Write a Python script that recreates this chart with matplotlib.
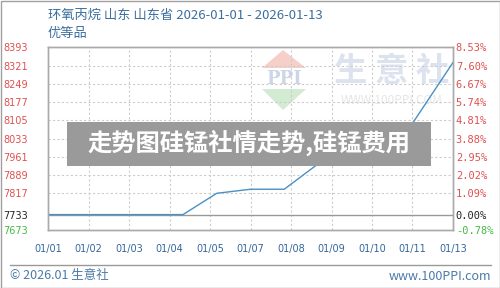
import matplotlib
matplotlib.use("Agg")
import matplotlib.pyplot as plt
from matplotlib.patches import Polygon, Rectangle
import numpy as np

plt.rcParams['font.family'] = ['Noto Sans CJK SC', 'DejaVu Sans']

# ---- data ----
dates = ['01/01', '01/02', '01/03', '01/04', '01/05', '01/06', '01/07',
         '01/08', '01/09', '01/10', '01/11', '01/13']
prices = [7733, 7733, 7733, 7733, 7733, 7817, 7833, 7833, 7933, 7933, 7933, 8333]
x_labels = ['01/01', '01/02', '01/03', '01/04', '01/05', '01/07', '01/08',
            '01/09', '01/10', '01/11', '01/13']
y_ticks = [8393, 8321, 8249, 8177, 8105, 8033, 7961, 7889, 7817, 7733, 7673]
base_price = 7733
title_line1 = '环氧丙烷 山东 山东省 2026-01-01 - 2026-01-13'
title_line2 = '优等品'
banner_text = '走势图硅锰社情走势,硅锰费用'
footer_left = '© 2026.01 生意社'
footer_right = 'www.100PPI.com'

W, H = 500, 288
fig = plt.figure(figsize=(W / 100, H / 100), dpi=100, facecolor='white')

# background axes (watermark)
bg = fig.add_axes([0, 0, 1, 1], zorder=0)
bg.set_xlim(0, W); bg.set_ylim(H, 0); bg.axis('off')
bg.add_patch(Polygon([[283, 50], [262, 68], [306, 68]], closed=True, color='#f6cfc8', lw=0))
bg.text(284, 79, 'PPI', ha='center', va='center', fontsize=13, color='#cdd5e6',
        family='DejaVu Serif', fontweight='bold')
bg.add_patch(Polygon([[262, 89], [306, 89], [283, 110]], closed=True, color='#d3ead3', lw=0))
bg.text(392, 71, '生 意 社', ha='center', va='center', fontsize=24, color='#dde3ee',
        fontweight='bold')
bg.text(392, 101, 'WWW.100PPI.COM', ha='center', va='center', fontsize=8.5, color='#e6e6e6')

# main axes
L, R, T, B = 48, 453, 47.3, 229.8
ax = fig.add_axes([L / W, 1 - B / H, (R - L) / W, (B - T) / H], zorder=1)
ax.set_facecolor('none')

day = np.array([int(d.split('/')[1]) for d in dates])
ax.set_xlim(1, 13)
ax.set_ylim(y_ticks[-1], y_ticks[0])

xt = np.linspace(1, 13, len(x_labels))
ax.set_xticks(xt)
ax.set_xticklabels(x_labels, fontsize=7, color='#336699', family='DejaVu Sans')
ax.tick_params(axis='x', length=0, pad=10)

ax.set_yticks(y_ticks)
ax.set_yticklabels([str(v) for v in y_ticks], fontsize=7, family='DejaVu Sans')
ax.tick_params(axis='y', length=0, pad=14.5)
for lbl, v in zip(ax.get_yticklabels(), y_ticks):
    lbl.set_color('#e05050' if v > base_price else ('#222222' if v == base_price else '#44bb44'))

ax2 = ax.twinx()
ax2.set_ylim(ax.get_ylim())
ax2.set_yticks(y_ticks)
pct = [(v / base_price - 1) * 100 for v in y_ticks]
ax2.set_yticklabels(['%.2f%%' % p for p in pct], fontsize=7.5, family='DejaVu Sans Mono')
ax2.tick_params(axis='y', length=0, pad=2)
for lbl, v in zip(ax2.get_yticklabels(), y_ticks):
    lbl.set_color('#e05050' if v > base_price else ('#222222' if v == base_price else '#44bb44'))

for a in (ax, ax2):
    for s in a.spines.values():
        s.set_color('#aaaaaa'); s.set_linewidth(1)

for v in y_ticks[1:-1]:
    if v != base_price:
        ax.axhline(v, color='#cccccc', lw=0.8, ls=(0, (2, 2)), zorder=1)
for x in xt[1:-1]:
    ax.axvline(x, color='#cccccc', lw=0.8, ls=(0, (2, 2)), zorder=1)
ax.axhline(base_price, color='#999999', lw=1, zorder=2)

ax.plot(day, prices, color='#4a90c4', lw=1, zorder=3)

# overlay axes
ov = fig.add_axes([0, 0, 1, 1], zorder=3)
ov.set_xlim(0, W); ov.set_ylim(H, 0); ov.axis('off')
ov.patch.set_alpha(0)
ov.add_patch(Rectangle((0.5, 0.5), W - 1, H - 1, fill=False, ec='#a0a0a0', lw=1))
ov.text(48, 15, title_line1, fontsize=9.5, color='#3a6f9f', va='center', ha='left')
ov.text(48, 33, title_line2, fontsize=9.5, color='#3a6f9f', va='center', ha='left')
ov.plot([10, 491], [264.5, 264.5], color='#999999', lw=1)
ov.text(10, 276, footer_left, fontsize=9, color='#4a7aa8', va='center', ha='left')
ov.text(491, 276, footer_right, fontsize=9, color='#4a7aa8', va='center', ha='right')
ov.add_patch(Rectangle((67, 122), 364, 44, color='#9a9a9a', lw=0))
ov.text(249, 143, banner_text, fontsize=17.5, color='white', fontweight='bold',
        ha='center', va='center')

fig.savefig('out.png', dpi=100, facecolor='white')
